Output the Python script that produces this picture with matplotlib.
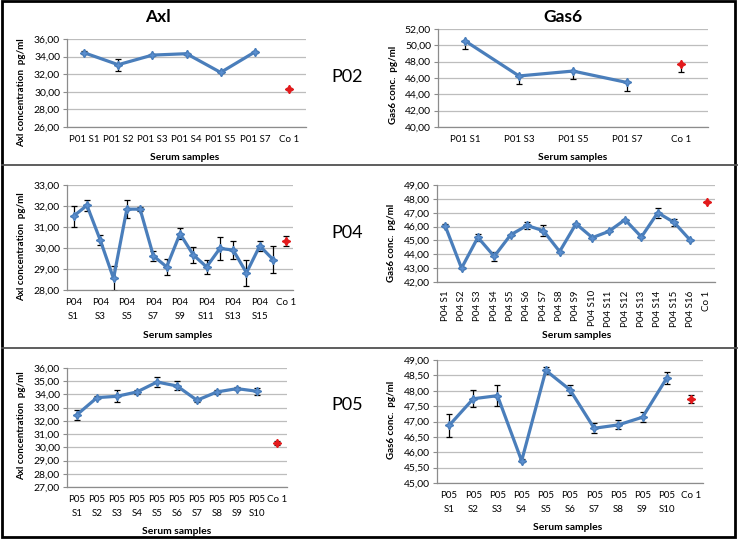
import matplotlib
matplotlib.use("Agg")
import matplotlib.pyplot as plt
from matplotlib.lines import Line2D
from matplotlib.patches import Rectangle
from matplotlib.ticker import FuncFormatter, MultipleLocator
import numpy as np

# ---- data ----
# patient P02 (samples labelled P01)
axl_p02_labels = ["P01 S1", "P01 S2", "P01 S3", "P01 S4", "P01 S5", "P01 S7", "Co 1"]
axl_p02 = [34.44, 33.08, 34.17, 34.33, 32.20, 34.52]
axl_p02_err = [0.14, 0.68, 0.10, 0.10, 0.12, 0.12]
axl_p02_co = 30.30
axl_p02_co_err = 0.15

gas6_p02_labels = ["P01 S1", "P01 S3", "P01 S5", "P01 S7", "Co 1"]
gas6_p02 = [50.55, 46.25, 46.85, 45.45]
gas6_p02_err = [1.05, 0.95, 1.00, 1.00]  # only the lower bar is drawn
gas6_p02_co = 47.75
gas6_p02_co_err = 1.00

# patient P04
p04_samples = ["S%d" % i for i in range(1, 17)]
axl_p04 = [31.52, 32.03, 30.38, 28.55, 31.85, 31.85, 29.62, 29.10, 30.68, 29.67,
           29.10, 29.98, 29.90, 28.82, 30.10, 29.45]
axl_p04_err = [0.50, 0.27, 0.23, 0.60, 0.43, 0.08, 0.25, 0.40, 0.27, 0.40,
               0.35, 0.56, 0.42, 0.62, 0.22, 0.65]
axl_p04_co = 30.33
axl_p04_co_err = 0.25

gas6_p04 = [46.05, 43.00, 45.22, 43.85, 45.40, 46.08, 45.70, 44.20, 46.20, 45.20,
            45.65, 46.50, 45.25, 47.00, 46.30, 45.00]
gas6_p04_err = [0.10, 0.05, 0.25, 0.35, 0.10, 0.25, 0.40, 0.05, 0.05, 0.05,
                0.05, 0.05, 0.05, 0.35, 0.25, 0.05]
gas6_p04_co = 47.80
gas6_p04_co_err = 0.05

# patient P05
p05_samples = ["S%d" % i for i in range(1, 11)]
axl_p05 = [32.47, 33.76, 33.86, 34.19, 34.94, 34.64, 33.56, 34.19, 34.44, 34.24]
axl_p05_err = [0.37, 0.10, 0.44, 0.12, 0.35, 0.34, 0.15, 0.18, 0.12, 0.27]
axl_p05_co = 30.33
axl_p05_co_err = 0.15

gas6_p05 = [46.87, 47.74, 47.84, 45.72, 48.66, 48.03, 46.78, 46.89, 47.14, 48.41]
gas6_p05_err = [0.36, 0.27, 0.34, 0.05, 0.12, 0.17, 0.17, 0.15, 0.17, 0.20]
gas6_p05_co = 47.74
gas6_p05_co_err = 0.13

W, H = 740, 539
plt.rcParams['font.family'] = ['Lato', 'DejaVu Sans']

fig = plt.figure(figsize=(W / 100, H / 100), dpi=100)
fig.patch.set_facecolor('white')


def rect(l, t, r, b):
    return [l / W, 1 - b / H, (r - l) / W, (b - t) / H]


def fx(x):
    return x / W


def fy(y):
    return 1 - y / H


comma = FuncFormatter(lambda v, p: ("%.2f" % v).replace(".", ","))

blue = '#4A7EBB'
red = '#E31A1C'
star = (4, 1, 0)


def panel(box, vals, err, co, co_err, ylo, yhi, ystep, ticklabels, rot=0, lower_only=False):
    ax = fig.add_axes(rect(*box))
    n = len(vals)
    x = np.arange(n)
    if lower_only:
        e = [err, [0] * n]
        ce = [[co_err], [0]]
    else:
        e = err
        ce = co_err
    ax.errorbar(x, vals, yerr=e, fmt='none', ecolor='black', elinewidth=0.9,
                capsize=2.5, capthick=0.9, zorder=3)
    ax.plot(x, vals, color=blue, lw=2.3, marker=star, ms=6, mfc='#5B8FD0',
            mec=blue, zorder=4)
    ax.errorbar([n], [co], yerr=ce, fmt='none', ecolor='black', elinewidth=0.9,
                capsize=2.5, capthick=0.9, zorder=3)
    ax.plot([n], [co], marker=star, ms=6, color=red, ls='none', zorder=4)

    ax.set_xlim(-0.5, n + 0.5)
    ax.set_ylim(ylo, yhi)
    ax.yaxis.set_major_locator(MultipleLocator(ystep))
    ax.yaxis.set_major_formatter(comma)
    ax.grid(axis='y', color='#BDBDBD', lw=0.9, zorder=0)
    ax.set_axisbelow(True)
    for s in ['top', 'right']:
        ax.spines[s].set_visible(False)
    for s in ['left', 'bottom']:
        ax.spines[s].set_color('#8C8C8C')
        ax.spines[s].set_linewidth(0.9)
    ax.tick_params(axis='y', length=3, color='#8C8C8C', labelsize=7.5, pad=2)
    ax.tick_params(axis='x', length=0, labelsize=7, pad=6)
    ax.set_xticks(np.arange(n + 1))
    ax.set_xticklabels(ticklabels, rotation=rot, linespacing=1.6)
    return ax


# top row: P02
panel((67, 39, 306, 127), axl_p02, axl_p02_err, axl_p02_co, axl_p02_co_err,
      26, 36, 2, axl_p02_labels)
panel((438, 29, 708, 127), gas6_p02, gas6_p02_err, gas6_p02_co, gas6_p02_co_err,
      40, 52, 2, gas6_p02_labels, lower_only=True)

# middle row: P04
lab = []
for i, s in enumerate(p04_samples + ["Co 1"]):
    if s == "Co 1":
        lab.append("Co 1")
    elif i % 2 == 0:
        lab.append("P04\n" + s)
    else:
        lab.append("")
panel((67, 185, 293, 290), axl_p04, axl_p04_err, axl_p04_co, axl_p04_co_err,
      28, 33, 1, lab)
panel((437, 185, 715, 282), gas6_p04, gas6_p04_err, gas6_p04_co, gas6_p04_co_err,
      42, 49, 1, ["P04 " + s for s in p04_samples] + ["Co 1"], rot=90)

# bottom row: P05
lab5 = ["P05\n" + s for s in p05_samples] + ["Co 1"]
panel((67, 368, 287, 487), axl_p05, axl_p05_err, axl_p05_co, axl_p05_co_err,
      27, 36, 1, lab5)
panel((437, 360, 703, 483), gas6_p05, gas6_p05_err, gas6_p05_co, gas6_p05_co_err,
      45, 49, 0.5, lab5)

# titles and row labels
fig.text(fx(158), fy(17), "Axl", ha='center', va='center', fontsize=12.5, fontweight='bold')
fig.text(fx(563), fy(17), "Gas6", ha='center', va='center', fontsize=12.5, fontweight='bold')
for lbl, y in [("P02", 77), ("P04", 233), ("P05", 405)]:
    fig.text(fx(347), fy(y), lbl, ha='center', va='center', fontsize=13)

# axis titles
for x, y in [(22, 93), (22, 247), (22, 426)]:
    fig.text(fx(x), fy(y), "Axl concentration  pg/ml", rotation=90, ha='center',
             va='center', fontsize=7, fontweight='bold')
for x, y in [(394, 85), (392, 243), (392, 420)]:
    fig.text(fx(x), fy(y), "Gas6 conc.  pg/ml", rotation=90, ha='center',
             va='center', fontsize=7, fontweight='bold')
for x, y in [(185, 157), (573, 158), (178, 336), (577, 335), (177, 531), (568, 528)]:
    fig.text(fx(x), fy(y), "Serum samples", ha='center', va='center',
             fontsize=7.5, fontweight='bold')

# frame and row dividers
fig.add_artist(Rectangle((fx(2), fy(537)), fx(735) - fx(2), fy(1) - fy(537),
                         fill=False, ec='black', lw=2, transform=fig.transFigure))
for y in [165, 348]:
    fig.add_artist(Line2D([fx(2), fx(737)], [fy(y), fy(y)], color='#505050', lw=1.3,
                          transform=fig.transFigure))

fig.savefig("out.png", dpi=100)
